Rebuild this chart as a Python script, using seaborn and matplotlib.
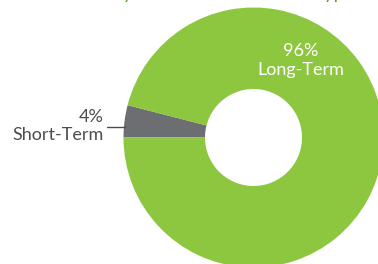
import seaborn as sns
import matplotlib.pyplot as plt

# values
segments = ["Short-Term", "Long-Term"]
shares = [4, 96]
pct_labels = ["4%", "96%"]
title = "Assets by Investment Duration Type"

gray = "#6d6e71"
green = "#8dc63f"

sns.set_style("white")
plt.rcParams["font.family"] = ["Lato", "DejaVu Sans"]

fig = plt.figure(figsize=(3.78, 2.64), dpi=100)
ax = fig.add_axes([0, 0, 1, 1])

# pixel-like coords, y negative downward
cx, cy = 253.5, -137.5
r_out, r_in = 130, 48.5
ax.pie(shares, colors=[gray, green], startangle=180, counterclock=False,
       radius=r_out, center=(cx, cy),
       wedgeprops=dict(width=r_out - r_in, linewidth=0))

ax.set_xlim(0, 378)
ax.set_ylim(-264, 0)
ax.set_aspect("equal")
ax.axis("off")

# labels
ax.text(301, -51, pct_labels[1], color="white", fontsize=13, ha="center", va="center")
ax.text(301, -70, segments[1], color="white", fontsize=13, ha="center", va="center")
ax.text(104, -117, pct_labels[0], color="#4d4d4f", fontsize=13, ha="right", va="center")
ax.text(104, -135, segments[0], color="#4d4d4f", fontsize=13, ha="right", va="center")
ax.plot([107, 125], [-127, -127], color="#4d4d4f", lw=1)

# cut-off title at the top
ax.text(54, 1, title, color="#5aa531", fontsize=13.5, ha="left", va="baseline", clip_on=False)

fig.savefig("out.png", dpi=100)
